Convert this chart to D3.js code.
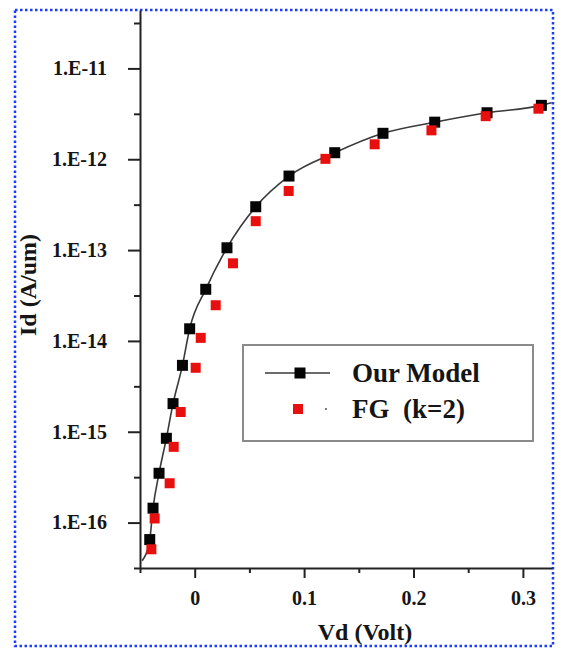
<!DOCTYPE html>
<html>
<head>
<meta charset="utf-8">
<script src="https://cdn.jsdelivr.net/npm/d3@7"></script>
<style>
  body { margin: 0; background: #fff; }
  svg { display: block; }
  text { font-family: "Liberation Serif", "Times New Roman", serif; font-weight: bold; fill: #151515; }
</style>
</head>
<body>
<svg id="chart" width="563" height="648"></svg>
<script>
// Drain current vs drain voltage (log scale)
const modelVd = [-0.0411, -0.0381, -0.0326, -0.0259, -0.0198, -0.0112, -0.0046, 0.0101,
                 0.0295, 0.0558, 0.0862, 0.128, 0.1721, 0.2194, 0.2672, 0.3169];
const modelId = [6.5e-17, 1.44e-16, 3.49e-16, 8.47e-16, 2.04e-15, 5.38e-15, 1.36e-14, 3.7e-14,
                 1.06e-13, 3.0e-13, 6.53e-13, 1.18e-12, 1.93e-12, 2.56e-12, 3.25e-12, 3.92e-12];

const fgVd = [-0.0396, -0.0366, -0.0229, -0.0192, -0.0128, 0.0009, 0.0055, 0.0192,
              0.035, 0.0558, 0.0859, 0.1195, 0.1645, 0.2164, 0.266, 0.3142];
const fgId = [5.08e-17, 1.11e-16, 2.71e-16, 6.82e-16, 1.65e-15, 5.06e-15, 1.08e-14, 2.47e-14,
              7.15e-14, 2.08e-13, 4.47e-13, 1.01e-12, 1.46e-12, 2.08e-12, 2.98e-12, 3.6e-12];

// Model curve runs a little beyond the first and last markers
const curveStart = { vd: -0.048, id: 3.8e-17 };
const curveEnd = { vd: 0.3263, id: 4.2e-12 };

const seriesNames = ["Our Model", "FG  (k=2)"];

const xMajorTicks = [0, 0.1, 0.2, 0.3];
const xMajorLabels = ["0", "0.1", "0.2", "0.3"];
const xMinorTicks = [-0.05, 0.05, 0.15, 0.25];

const yMajorTicks = [1e-16, 1e-15, 1e-14, 1e-13, 1e-12, 1e-11];
const yMajorLabels = ["1.E-16", "1.E-15", "1.E-14", "1.E-13", "1.E-12", "1.E-11"];
const yMinorExp = [-16.5, -15.5, -14.5, -13.5, -12.5, -11.5, -10.5];

const xTitle = "Vd (Volt)";
const yTitle = "Id (A/um)";

const svg = d3.select("#chart");

// Dotted frame around the figure
svg.append("rect")
  .attr("x", 15).attr("y", 10).attr("width", 538).attr("height", 636)
  .attr("fill", "none").attr("stroke", "#1a3cff").attr("stroke-width", 2.5)
  .attr("stroke-dasharray", "2.5,2.5");

const x = d3.scaleLinear().domain([-0.05, 0.3266]).range([140, 552]);
const y = d3.scaleLog().domain([Math.pow(10, -16.5), Math.pow(10, -10.357)]).range([568, 10]);

const axisColor = "#222";

// Y axis: major ticks with labels, minor ticks at half decades
const yAxis = svg.append("g").attr("transform", "translate(140,0)")
  .call(d3.axisLeft(y).tickValues(yMajorTicks)
    .tickFormat((d, i) => yMajorLabels[i])
    .tickSize(12).tickSizeOuter(0).tickPadding(21));
yAxis.select(".domain").attr("stroke", axisColor).attr("stroke-width", 2);
yAxis.selectAll(".tick line").attr("stroke", axisColor).attr("stroke-width", 2);
yAxis.selectAll(".tick text").attr("font-size", 20);

const yMinor = svg.append("g").attr("transform", "translate(140,0)")
  .call(d3.axisLeft(y).tickValues(yMinorExp.map(e => Math.pow(10, e)))
    .tickFormat("").tickSize(6).tickSizeOuter(0));
yMinor.select(".domain").remove();
yMinor.selectAll(".tick line").attr("stroke", axisColor).attr("stroke-width", 2);

// X axis
const xAxis = svg.append("g").attr("transform", "translate(0,568)")
  .call(d3.axisBottom(x).tickValues(xMajorTicks)
    .tickFormat((d, i) => xMajorLabels[i])
    .tickSize(10).tickSizeOuter(0).tickPadding(27));
xAxis.select(".domain").attr("stroke", axisColor).attr("stroke-width", 2);
xAxis.selectAll(".tick line").attr("stroke", axisColor).attr("stroke-width", 2);
xAxis.selectAll(".tick text").attr("font-size", 20).attr("dy", 0);

const xMinor = svg.append("g").attr("transform", "translate(0,568)")
  .call(d3.axisBottom(x).tickValues(xMinorTicks).tickFormat("").tickSize(5).tickSizeOuter(0));
xMinor.select(".domain").remove();
xMinor.selectAll(".tick line").attr("stroke", axisColor).attr("stroke-width", 2);

// Axis titles
svg.append("text").attr("x", 365).attr("y", 640).attr("text-anchor", "middle")
  .attr("font-size", 24).text(xTitle);
svg.append("text").attr("transform", "translate(36,285) rotate(-90)")
  .attr("text-anchor", "middle").attr("font-size", 24).text(yTitle);

// Model curve
const curvePts = [[curveStart.vd, curveStart.id]]
  .concat(modelVd.map((v, i) => [v, modelId[i]]))
  .concat([[curveEnd.vd, curveEnd.id]]);
const line = d3.line().x(d => x(d[0])).y(d => y(d[1])).curve(d3.curveMonotoneX);
svg.append("path").datum(curvePts).attr("d", line)
  .attr("fill", "none").attr("stroke", "#3a3a3a").attr("stroke-width", 1.6);

const blackSize = 11, redSize = 10;

svg.append("g").selectAll("rect").data(modelVd).join("rect")
  .attr("x", (d) => x(d) - blackSize / 2)
  .attr("y", (d, i) => y(modelId[i]) - blackSize / 2)
  .attr("width", blackSize).attr("height", blackSize).attr("fill", "#050505");

svg.append("g").selectAll("rect").data(fgVd).join("rect")
  .attr("x", (d) => x(d) - redSize / 2)
  .attr("y", (d, i) => y(fgId[i]) - redSize / 2)
  .attr("width", redSize).attr("height", redSize).attr("fill", "#e80f0f");

// Legend
const lg = svg.append("g");
lg.append("rect").attr("x", 243).attr("y", 345).attr("width", 290).attr("height", 96)
  .attr("fill", "#fff").attr("stroke", "#8a8a8a").attr("stroke-width", 2);
lg.append("line").attr("x1", 265).attr("x2", 330).attr("y1", 373).attr("y2", 373)
  .attr("stroke", "#3a3a3a").attr("stroke-width", 1.6);
lg.append("rect").attr("x", 300 - blackSize / 2).attr("y", 373 - blackSize / 2)
  .attr("width", blackSize).attr("height", blackSize).attr("fill", "#050505");
lg.append("rect").attr("x", 298 - redSize / 2).attr("y", 409 - redSize / 2)
  .attr("width", redSize).attr("height", redSize).attr("fill", "#e80f0f");
lg.append("circle").attr("cx", 326).attr("cy", 409).attr("r", 1).attr("fill", "#555");
lg.append("text").attr("x", 352).attr("y", 382).attr("font-size", 27).text(seriesNames[0]);
lg.append("text").attr("x", 352).attr("y", 418).attr("font-size", 27)
  .style("white-space", "pre").text(seriesNames[1]);
</script>
</body>
</html>
